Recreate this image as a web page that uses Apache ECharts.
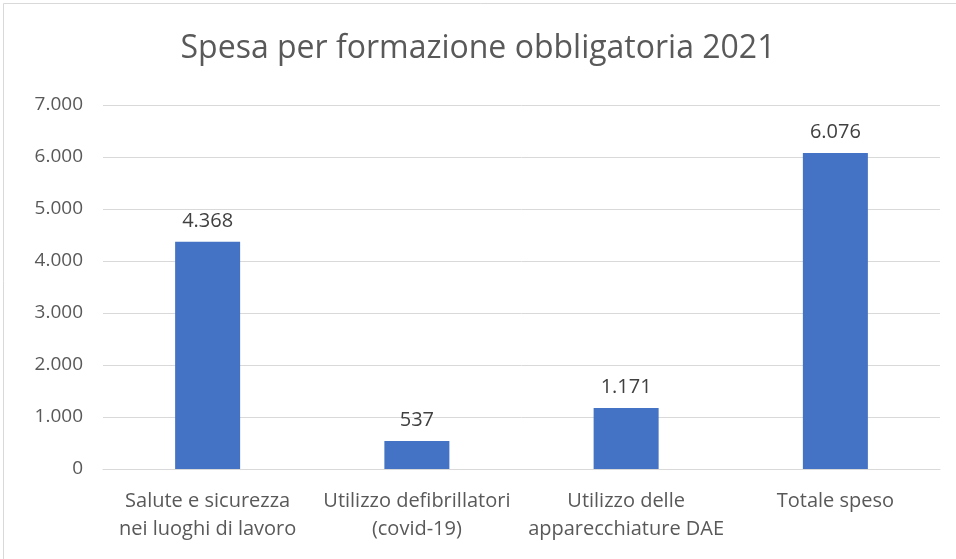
<!DOCTYPE html>
<html><head><meta charset="utf-8">
<script src="https://cdn.jsdelivr.net/npm/echarts@6/dist/echarts.min.js"></script>
<style>html,body{margin:0;padding:0;background:#fff}#c{width:956px;height:559px}</style>
</head><body><div id="c"></div>
<script>
const titleText = 'Spesa per formazione obbligatoria 2021';
const categories = ['Salute e sicurezza\nnei luoghi di lavoro', 'Utilizzo defibrillatori\n(covid-19)', 'Utilizzo delle\napparecchiature DAE', 'Totale speso'];
const values = [4368, 537, 1171, 6076];
const yMin = 0, yMax = 7000, yStep = 1000;

function fmt(v){ return String(Math.round(v)).replace(/\B(?=(\d{3})+(?!\d))/g, '.'); }

const chart = echarts.init(document.getElementById('c'));
const FONT = '"Open Sans", "Noto Sans", sans-serif';
chart.setOption({
  animation: false,
  textStyle: { fontFamily: FONT },
  title: { text: titleText, left: 'center', top: 28,
    textStyle: { fontFamily: FONT, fontSize: 32, fontWeight: 'normal', color: '#595959' } },
  graphic: [{ type: 'rect', shape: { x: 3.5, y: 3.5, width: 960, height: 560 },
    style: { fill: 'none', stroke: '#d9d9d9', lineWidth: 1 }, silent: true }],
  grid: { left: 103, right: 16, top: 105, bottom: 90, containLabel: false },
  xAxis: { type: 'category', data: categories,
    axisLine: { lineStyle: { color: '#d9d9d9', width: 1 } }, axisTick: { show: false },
    axisLabel: { color: '#595959', fontSize: 20, lineHeight: 28, margin: 18, interval: 0 } },
  yAxis: { type: 'value', min: yMin, max: yMax, interval: yStep,
    axisLine: { show: false }, axisTick: { show: false },
    splitLine: { lineStyle: { color: '#d9d9d9', width: 1 } },
    axisLabel: { color: '#595959', fontSize: 19, margin: 20, formatter: fmt } },
  series: [{ type: 'bar', data: values, barWidth: 65,
    itemStyle: { color: '#4472C4' },
    label: { show: true, position: 'top', distance: 11, color: '#404040', fontSize: 20,
      formatter: p => fmt(p.value) } }]
});
</script></body></html>
